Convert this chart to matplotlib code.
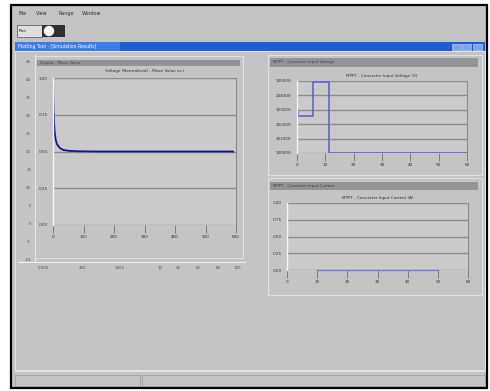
import matplotlib.pyplot as plt
from matplotlib.patches import Rectangle

W, H = 490, 391

# --- data ---
# left panel: fast decay to a steady level
decay_t = [0, 1, 2, 4, 6, 9, 13, 18, 25, 35, 50, 80, 150, 300, 450, 590]
decay_y = [1.0, 0.88, 0.78, 0.68, 0.62, 0.58, 0.55, 0.535, 0.52, 0.51, 0.505, 0.502, 0.5, 0.5, 0.5, 0.5]
left_xticks = [0, 100, 200, 300, 400, 500, 600]
left_yticks = [0.0, 0.25, 0.5, 0.75, 1.0]

# top right panel: step signal
step_t = [0, 0.4, 5.6, 11.3, 60]
step_y = [103000, 102600, 104900, 100000, 100000]
top_xticks = [0, 10, 20, 30, 40, 50, 60]
top_yticks = [100000, 101000, 102000, 103000, 104000, 105000]

# bottom right panel: flat line at zero
flat_t = [10, 50]
flat_y = [0.0, 0.0]
bot_xticks = [0, 10, 20, 30, 40, 50, 60]
bot_yticks = [0.0, 0.25, 0.5, 0.75, 1.0]

menu_items = ["File", "View", "Range", "Window"]
menu_x = [18, 36, 58, 82]

BG = "#c4c4c4"
PLOT_BG = "#cacaca"
GRID = "#8c8c8c"
TITLE_BAR = "#949494"

fig = plt.figure(figsize=(W / 100, H / 100), dpi=100)
fig.patch.set_facecolor("white")

# chrome drawn in pixel coordinates
bg = fig.add_axes([0, 0, 1, 1])
bg.set_xlim(0, W)
bg.set_ylim(H, 0)
bg.axis("off")


def rect(x0, y0, x1, y1, fc, ec="none", lw=0.6, z=1):
    bg.add_patch(Rectangle((x0, y0), x1 - x0, y1 - y0, facecolor=fc,
                           edgecolor=ec, linewidth=lw, zorder=z))


rect(11, 5, 487, 388, BG, ec="black", lw=1.6)
# menu bar
for name, mx in zip(menu_items, menu_x):
    bg.text(mx, 15, name, fontsize=3.5, color="#303030", va="baseline")
# toolbar button
rect(17, 25, 42, 37, "#e0e0e0", ec="#505050", lw=0.5, z=2)
bg.text(19, 31, "Run", fontsize=3, color="#202020", va="center")
rect(42, 25, 65, 37, "#303030", z=2)
bg.add_patch(plt.Circle((49, 31), 4.5, color="#f4f4f4", zorder=3))
# window title bar
rect(15, 42, 485, 51, "#1d5ed2", z=2)
rect(15, 42, 120, 51, "#3b7ce6", z=2)
bg.text(18, 46.5, "Plotting Tool - [Simulation Results]", fontsize=3.3,
        color="white", va="center", zorder=3)
for bx in [452, 462, 473]:
    rect(bx, 43.5, bx + 9, 49.5, "#7aa6ee", ec="#d0dcf4", lw=0.4, z=3)
rect(15, 51, 485, 370, BG, ec="#e8e8e8", lw=0.6, z=1.5)

# left vertical ruler
bg.plot([35, 35], [55, 262], color="#f0f0f0", lw=0.8, zorder=2)
for i, ry in enumerate(range(62, 266, 18)):
    bg.text(31, ry, str(45 - 5 * i), fontsize=2.8, color="#505070",
            ha="right", va="center", zorder=2)
# horizontal ruler under left panel
bg.plot([18, 245], [262, 262], color="#f0f0f0", lw=0.8, zorder=2)
for lx, lab in zip([43, 83, 120, 160, 178, 198, 218, 237],
                   ["0.000", "400", "1000", "10", "40", "60", "80", "100"]):
    bg.text(lx, 268, lab, fontsize=2.8, color="#505070", ha="center",
            va="center", zorder=2)

# panel frames and title bars
rect(35, 56, 243, 258, "none", ec="#e6e6e6", lw=0.6, z=2)
rect(37, 60, 240, 66, TITLE_BAR, z=2)
bg.text(40, 63, "Output - Mean Value", fontsize=2.8, color="#404040",
        va="center", zorder=3)
rect(268, 55, 482, 175, "none", ec="#e6e6e6", lw=0.6, z=2)
rect(270, 58, 478, 67, TITLE_BAR, z=2)
bg.text(273, 62.5, "MPPT - Converter Input Voltage", fontsize=2.8,
        color="#404040", va="center", zorder=3)
rect(268, 178, 482, 295, "none", ec="#e6e6e6", lw=0.6, z=2)
rect(270, 182, 478, 190, TITLE_BAR, z=2)
bg.text(273, 186, "MPPT - Converter Input Current", fontsize=2.8,
        color="#404040", va="center", zorder=3)

# status bar
bg.plot([15, 485], [371, 371], color="#e8e8e8", lw=0.6, zorder=2)
rect(15, 375, 140, 386, "none", ec="#9a9a9a", lw=0.5, z=2)
rect(142, 375, 485, 386, "none", ec="#9a9a9a", lw=0.5, z=2)


def plot_axes(x0, y0, x1, y1):
    ax = fig.add_axes([x0 / W, 1 - y1 / H, (x1 - x0) / W, (y1 - y0) / H])
    ax.set_facecolor(PLOT_BG)
    for side in ["top", "bottom"]:
        ax.spines[side].set_visible(False)
    ax.spines["left"].set_color("#f4f4f4")
    ax.spines["left"].set_linewidth(1.0)
    ax.spines["right"].set_color("#8c8c8c")
    ax.spines["right"].set_linewidth(0.8)
    ax.grid(True, axis="y", color=GRID, linewidth=1.0)
    ax.tick_params(axis="y", length=0, labelsize=3, pad=4,
                   labelcolor="#303040")
    ax.tick_params(axis="x", length=6, width=0.5, color="#606060",
                   labelsize=3, pad=1.5, labelcolor="#303040")
    ax.set_axisbelow(True)
    return ax


# left chart
ax1 = plot_axes(53, 78, 236, 225)
ax1.plot(decay_t, decay_y, color="#14148c", linewidth=1.3)
ax1.set_xlim(0, 600)
ax1.set_ylim(0, 1)
ax1.set_xticks(left_xticks)
ax1.set_yticks(left_yticks)
ax1.set_yticklabels([f"{v:.2f}" for v in left_yticks])
ax1.set_title("Voltage (Normalised) - Mean Value vs t", fontsize=3, pad=4,
              color="#303030")

# top right chart
ax2 = plot_axes(297, 81, 467, 153)
ax2.plot(step_t, step_y, drawstyle="steps-post", color="#6262d6",
         linewidth=1.2)
ax2.set_xlim(0, 60)
ax2.set_ylim(100000, 105000)
ax2.set_xticks(top_xticks)
ax2.set_yticks(top_yticks)
ax2.set_yticklabels([str(v) for v in top_yticks])
ax2.set_title("MPPT - Converter Input Voltage (V)", fontsize=3, pad=3,
              color="#303030")

# bottom right chart
ax3 = plot_axes(287, 203, 468, 270)
ax3.plot(flat_t, flat_y, color="#7a7ad8", linewidth=1.0, clip_on=False)
ax3.set_xlim(0, 60)
ax3.set_ylim(0, 1)
ax3.set_xticks(bot_xticks)
ax3.set_yticks(bot_yticks)
ax3.set_yticklabels([f"{v:.2f}" for v in bot_yticks])
ax3.set_title("MPPT - Converter Input Current (A)", fontsize=3, pad=3,
              color="#303030")

fig.savefig("out.png", dpi=100)
